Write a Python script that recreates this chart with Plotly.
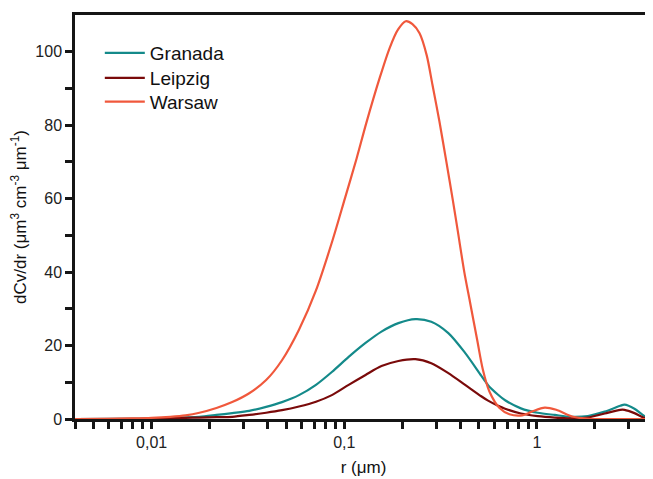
import math
import plotly.graph_objects as go

# ---- data ----
granada_r = [0.004, 0.008, 0.01, 0.0125, 0.015, 0.0177, 0.0217, 0.0262, 0.0321, 0.0393, 0.0475,
             0.0582, 0.0713, 0.0862, 0.1054, 0.129, 0.156, 0.191, 0.234, 0.283, 0.347, 0.424,
             0.514, 0.558, 0.629, 0.684, 0.826, 1.01, 1.24, 1.50, 1.84, 2.25, 2.71, 2.85, 3.21,
             3.61, 3.96]
granada_v = [0.0, 0.05, 0.15, 0.3, 0.45, 0.6, 1.1, 1.6, 2.2, 3.3, 4.6,
             6.5, 9.3, 12.8, 16.9, 20.7, 23.8, 26.1, 27.2, 26.5, 23.4, 18.0,
             11.8, 9.2, 6.6, 5.1, 2.9, 1.7, 1.1, 0.6, 0.8, 2.0, 3.6, 3.9, 2.8,
             0.8, 0.0]

leipzig_r = granada_r
leipzig_v = [0.0, 0.03, 0.1, 0.2, 0.3, 0.4, 0.5, 0.6, 1.1, 1.7, 2.4,
             3.4, 4.7, 6.5, 9.3, 12.0, 14.4, 15.8, 16.3, 15.2, 12.5, 9.3,
             6.2, 5.0, 3.6, 2.8, 1.5, 0.8, 0.4, 0.2, 0.4, 1.5, 2.5, 2.5, 1.6,
             0.3, 0.0]

warsaw_r = [0.004, 0.006, 0.008, 0.01, 0.0125, 0.015, 0.0177, 0.0217, 0.0262, 0.0321, 0.0393,
            0.0475, 0.0582, 0.0713, 0.0871, 0.1007, 0.116, 0.130, 0.153, 0.172, 0.190, 0.2085,
            0.226, 0.246, 0.268, 0.287, 0.312, 0.339, 0.365, 0.389, 0.42, 0.449, 0.49, 0.524,
            0.567, 0.640, 0.72, 0.84, 0.94, 1.10, 1.26, 1.54, 1.88, 2.70, 3.96]
warsaw_v = [0.0, 0.05, 0.15, 0.3, 0.6, 1.0, 1.7, 3.0, 4.6, 7.0, 10.6,
            16.0, 24.3, 35.0, 48.8, 60.0, 71.0, 80.5, 93.0, 101.0, 106.0, 108.3,
            107.5, 105.0, 99.0, 91.0, 81.0, 70.0, 60.0, 51.0, 40.0, 32.0, 21.5, 13.5,
            7.5, 3.0, 1.3, 1.0, 2.0, 3.1, 2.5, 0.6, 0.05, 0.0, 0.0]

series_names = ["Granada", "Leipzig", "Warsaw"]
series_colors = ["#148a8a", "#7a0a0a", "#f0583c"]
legend_ids = ["legend", "legend2", "legend3"]
legend_tops = [0.953, 0.891, 0.832]

# tick positions: labelled decades plus unlabelled 2..9 subdivisions
x_tick_vals = [m * 10.0 ** e for e in (-3, -2, -1, 0) for m in range(1, 10)]
x_tick_vals = [v for v in x_tick_vals if 0.004 <= v <= 3.96]
x_tick_labels = {0.01: "0,01", 0.1: "0,1", 1.0: "1"}
x_tick_text = [x_tick_labels.get(round(v, 6), "") for v in x_tick_vals]
y_tick_vals = list(range(0, 101, 10))
y_tick_text = [str(v) if v % 20 == 0 else "" for v in y_tick_vals]

X_RANGE = [0.004, 3.96]
Y_RANGE = [0, 110]
xr = [math.log10(X_RANGE[0]), math.log10(X_RANGE[1])]

fig = go.Figure()
for r, v, name, col, lg in zip([granada_r, leipzig_r, warsaw_r],
                               [granada_v, leipzig_v, warsaw_v],
                               series_names, series_colors, legend_ids):
    fig.add_trace(go.Scatter(x=r, y=v, name=name, mode="lines", legend=lg,
                             line=dict(color=col, width=2.2, shape="spline", smoothing=0.8)))

FONT = "Liberation Sans, Arial, sans-serif"
tickfont = dict(family=FONT, size=16, color="#222")
legend_common = dict(xanchor="left", yanchor="top", bgcolor="rgba(0,0,0,0)",
                     font=dict(family=FONT, size=19, color="#111"), itemwidth=40)
AXIS_COLOR = "#151515"

fig.update_layout(
    width=645, height=471,
    margin=dict(l=67, r=1, t=7, b=60),
    paper_bgcolor="white", plot_bgcolor="white",
    font=dict(family=FONT, color="#222"),
    showlegend=True,
    xaxis=dict(type="log", range=xr, showgrid=False, zeroline=False, automargin=False,
               showline=True, linecolor=AXIS_COLOR, linewidth=2.5, mirror=True,
               ticks="outside", ticklen=7, tickwidth=2.5, tickcolor=AXIS_COLOR,
               tickmode="array", tickvals=x_tick_vals, ticktext=x_tick_text,
               tickfont=tickfont,
               title=dict(text="r (\u03bcm)", font=dict(family=FONT, size=17, color="#111"),
                          standoff=12)),
    yaxis=dict(range=Y_RANGE, showgrid=False, zeroline=False, automargin=False,
               showline=True, linecolor=AXIS_COLOR, linewidth=2.5, mirror=True,
               ticks="outside", ticklen=7, tickwidth=2.5, tickcolor=AXIS_COLOR,
               tickmode="array", tickvals=y_tick_vals, ticktext=y_tick_text,
               tickfont=tickfont,
               title=dict(text="dCv/dr (\u03bcm<sup>3</sup> cm<sup>-3</sup> \u03bcm<sup>-1</sup>)",
                          font=dict(family=FONT, size=17, color="#111"), standoff=10)),
)
for lg, top in zip(legend_ids, legend_tops):
    fig.layout[lg] = dict(x=0.043, y=top, **legend_common)

fig.write_html("out.html")
